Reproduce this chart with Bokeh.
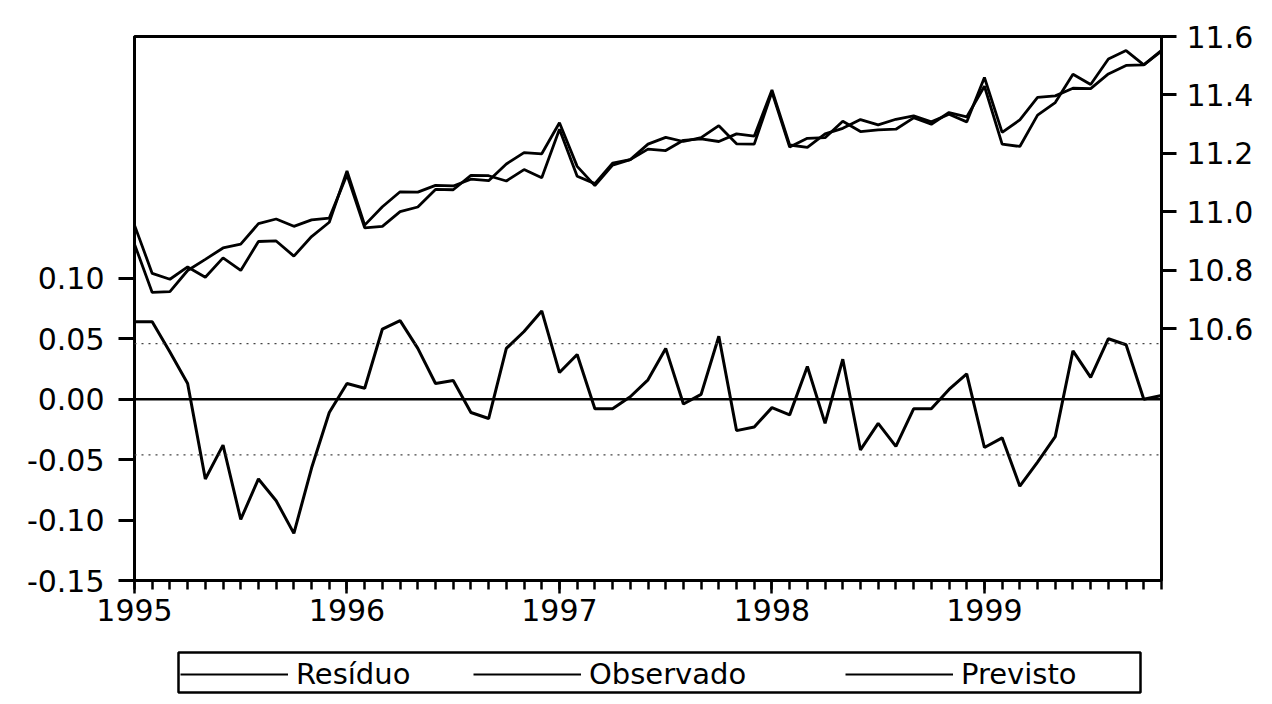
from bokeh.plotting import figure
from bokeh.models import (LinearAxis, Range1d, FixedTicker, Span, Legend, LegendItem,
                          NumeralTickFormatter, BoxAnnotation)
from bokeh.layouts import column
from bokeh.embed import file_html
from bokeh.resources import INLINE

# Monthly observations 1995M01 .. 1999M11
periods = [f"{y}M{m:02d}" for y in range(1995, 2000) for m in range(1, 13)][:59]

residuo = [0.064, 0.064, 0.039, 0.013, -0.066, -0.038, -0.0995, -0.066, -0.084, -0.111,
           -0.057, -0.011, 0.013, 0.009, 0.058, 0.065, 0.042, 0.013, 0.0155, -0.011,
           -0.016, 0.042, 0.056, 0.073, 0.022, 0.037, -0.008, -0.008, 0.002, 0.016,
           0.042, -0.004, 0.004, 0.052, -0.026, -0.023, -0.007, -0.013, 0.027, -0.020,
           0.033, -0.042, -0.020, -0.039, -0.008, -0.008, 0.008, 0.021, -0.040, -0.032,
           -0.072, -0.052, -0.031, 0.040, 0.018, 0.050, 0.045, 0.000, 0.003]

observado = [10.955, 10.79, 10.77, 10.812, 10.777, 10.843, 10.80, 10.899, 10.901, 10.849,
             10.916, 10.965, 11.14, 10.955, 11.018, 11.069, 11.068, 11.091, 11.089, 11.112,
             11.107, 11.164, 11.203, 11.199, 11.305, 11.156, 11.09, 11.16, 11.179, 11.232,
             11.255, 11.241, 11.254, 11.295, 11.233, 11.232, 11.41, 11.222, 11.252, 11.254,
             11.31, 11.275, 11.281, 11.283, 11.322, 11.30, 11.34, 11.325, 11.43, 11.232,
             11.224, 11.331, 11.374, 11.471, 11.436, 11.523, 11.552, 11.503, 11.553]

previsto = [10.89, 10.725, 10.728, 10.80, 10.838, 10.877, 10.89, 10.96, 10.976, 10.951,
            10.973, 10.979, 11.127, 10.946, 10.951, 11.001, 11.017, 11.077, 11.076, 11.125,
            11.124, 11.106, 11.145, 11.117, 11.283, 11.122, 11.097, 11.167, 11.179, 11.215,
            11.21, 11.245, 11.25, 11.241, 11.267, 11.259, 11.417, 11.229, 11.221, 11.267,
            11.286, 11.316, 11.298, 11.317, 11.329, 11.308, 11.334, 11.308, 11.46, 11.272,
            11.315, 11.392, 11.397, 11.423, 11.422, 11.472, 11.501, 11.503, 11.55]

series_names = ["Resíduo", "Observado", "Previsto"]
year_labels = ["1995", "1996", "1997", "1998", "1999"]
year_index = [periods.index(f"{y}M01") for y in year_labels]
resid_ticks = [-0.15, -0.10, -0.05, 0.00, 0.05, 0.10]
level_ticks = [10.6, 10.8, 11.0, 11.2, 11.4, 11.6]
std_err = 0.046

x = list(range(len(periods)))
FONT = "DejaVu Sans"
W = 1264
BL, BR = 134, 103          # side borders shared by both stacked figures
FW = W - BL - BR           # frame width in px

p = figure(width=W, height=640, output_backend="svg", toolbar_location=None,
           x_range=Range1d(0, len(periods) - 1), y_range=Range1d(-0.15, 0.30),
           min_border_left=BL, min_border_right=BR, min_border_top=36,
           min_border_bottom=60, background_fill_color="white",
           border_fill_color="white")
p.extra_y_ranges = {"nivel": Range1d(9.74, 11.6)}
p.grid.visible = False
p.outline_line_color = "black"
p.outline_line_width = 3

# bottom axis
xa = p.xaxis[0]
xa.ticker = FixedTicker(ticks=year_index, minor_ticks=x)
xa.major_label_overrides = {i: lab for i, lab in zip(year_index, year_labels)}
xa.axis_line_width = 3
xa.major_tick_line_width = 2.5
xa.minor_tick_line_width = 2.5
xa.major_tick_out = 13
xa.major_tick_in = 0
xa.minor_tick_out = 9
xa.minor_tick_in = 0
xa.major_label_standoff = 5
xa.major_label_text_font = FONT
xa.major_label_text_font_size = "30px"
xa.major_label_text_color = "black"

# left axis (residuals)
ya = p.yaxis[0]
ya.ticker = FixedTicker(ticks=resid_ticks, minor_ticks=[])
ya.formatter = NumeralTickFormatter(format="0.00")
ya.axis_line_width = 3
ya.major_tick_line_width = 3
ya.major_tick_out = 16
ya.major_tick_in = 0
ya.minor_tick_line_color = None
ya.major_label_standoff = 14
ya.major_label_text_font = FONT
ya.major_label_text_font_size = "30px"
ya.major_label_text_color = "black"

# right axis (levels)
ra = LinearAxis(y_range_name="nivel",
                ticker=FixedTicker(ticks=level_ticks, minor_ticks=[]),
                formatter=NumeralTickFormatter(format="0.0"))
ra.axis_line_width = 3
ra.major_tick_line_width = 3
ra.major_tick_out = 15
ra.major_tick_in = 0
ra.minor_tick_line_color = None
ra.major_label_standoff = 10
ra.major_label_text_font = FONT
ra.major_label_text_font_size = "30px"
ra.major_label_text_color = "black"
p.add_layout(ra, "right")

# reference lines
p.add_layout(Span(location=0, dimension="width", line_color="black", line_width=2.5))
for s in (std_err, -std_err):
    p.add_layout(Span(location=s, dimension="width", line_color="#444444",
                      line_width=1.3, line_dash="2 5"))

p.line(x, residuo, line_color="black", line_width=3)
p.line(x, observado, y_range_name="nivel", line_color="black", line_width=2.8)
p.line(x, previsto, y_range_name="nivel", line_color="black", line_width=2.8)

# legend strip below the chart (same side borders so frames line up)
leg = figure(width=W, height=56, output_backend="svg", toolbar_location=None,
             x_range=Range1d(0, FW), y_range=Range1d(0, 48),
             x_axis_location=None, y_axis_location=None,
             min_border_left=BL, min_border_right=BR,
             min_border_top=8, min_border_bottom=0,
             background_fill_color="white", border_fill_color="white")
leg.grid.visible = False
leg.outline_line_color = None
leg.add_layout(BoxAnnotation(left=44, right=1006, bottom=4, top=44,
                             fill_alpha=0, line_color="black", line_alpha=1,
                             line_width=2.5))

offsets = [46, 339, 711]
for name, off in zip(series_names, offsets):
    r = leg.line([-100, -99], [-100, -100], line_color="black", line_width=2.2)
    lg = Legend(items=[LegendItem(label=name, renderers=[r])],
                location=(off, 5), orientation="horizontal",
                border_line_color=None, background_fill_alpha=0,
                label_text_font=FONT, label_text_font_size="29px",
                label_text_color="black", glyph_width=108, glyph_height=28,
                label_standoff=8, padding=2, margin=0)
    leg.add_layout(lg, "center")

layout = column(p, leg, spacing=0)
open("out.html", "w").write(file_html(layout, INLINE))
